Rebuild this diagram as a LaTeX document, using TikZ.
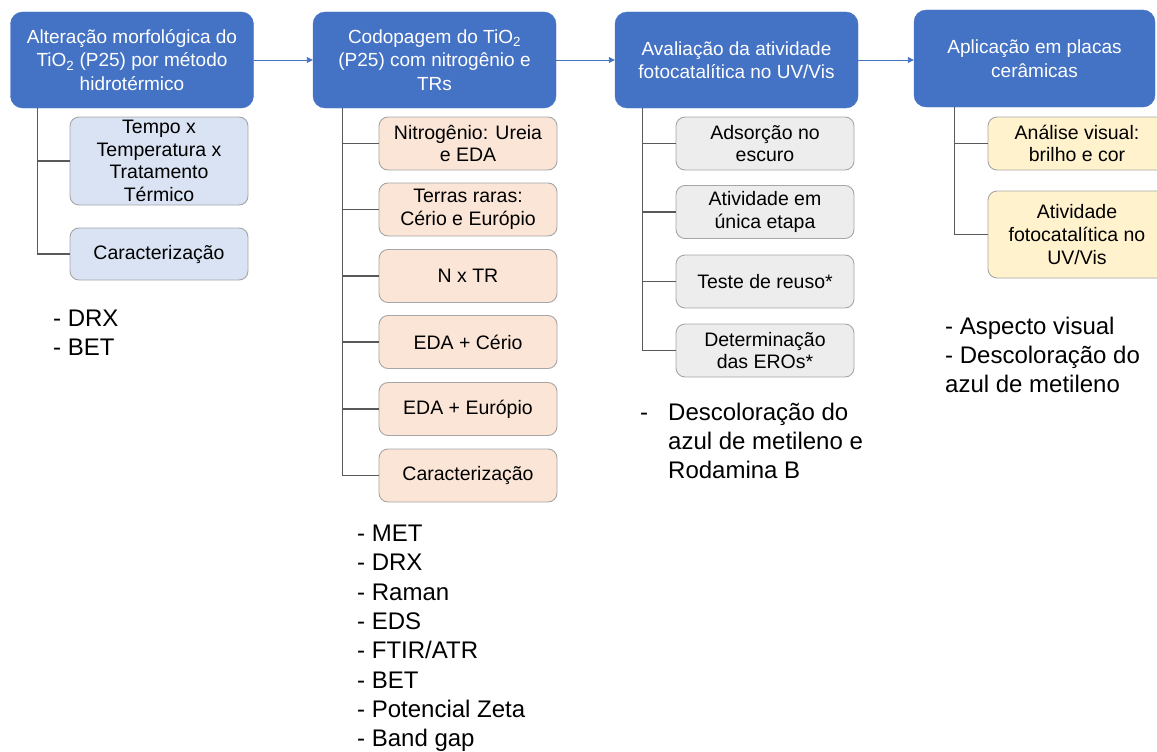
\documentclass[tikz,border=0pt]{standalone}
\usepackage{fontspec}
\setmainfont{Liberation Sans}
\usetikzlibrary{arrows.meta}
\definecolor{hdr}{HTML}{4472C4}
\definecolor{cA}{HTML}{DAE3F3}
\definecolor{cB}{HTML}{FBE5D6}
\definecolor{cC}{HTML}{EDEDED}
\definecolor{cD}{HTML}{FFF2CC}
\definecolor{bord}{HTML}{A6A6A6}
\definecolor{linegray}{HTML}{595959}
\begin{document}
\begin{tikzpicture}[x=1pt,y=-1pt,
  hdrbox/.style={draw=hdr, fill=hdr, rounded corners=12pt, minimum width=243pt, minimum height=96pt, text=white, align=center, font=\fontsize{19}{23.5}\selectfont, inner sep=0pt},
  subbox/.style={draw=bord, line width=0.9pt, rounded corners=9pt, minimum width=178pt, minimum height=53pt, align=center, font=\fontsize{19.5}{22.7}\selectfont, inner sep=0pt},
  conn/.style={draw=linegray, line width=1.1pt},
  flow/.style={draw=hdr, line width=0.9pt, -{Triangle[length=6pt,width=6pt]}},
  listtxt/.style={anchor=north west, inner sep=0pt, align=left, font=\fontsize{24}{29.3}\selectfont}
]
\clip (0,0) rectangle (1157,752);

% headers
\node[hdrbox] (h1) at (132,60) {Alteração morfológica do\\TiO\textsubscript{2} (P25) por método\\hidrotérmico};
\node[hdrbox] (h2) at (434.5,60) {Codopagem do TiO\textsubscript{2}\\(P25) com nitrogênio e\\TRs};
\node[hdrbox] (h3) at (736.5,60) {Avaliação da atividade\\fotocatalítica no UV/Vis};
\node[hdrbox, minimum width=241pt, minimum height=97pt] (h4) at (1034.5,58.5) {Aplicação em placas\\cerâmicas};

\draw[flow] (h1) -- (h2);
\draw[flow] (h2) -- (h3);
\draw[flow] (h3.east) -- (h3.east -| h4.west);

% column 1
\node[subbox, fill=cA, minimum height=88pt] (a1) at (159,161) {Tempo x\\Temperatura x\\Tratamento\\Térmico};
\node[subbox, fill=cA, minimum height=52pt] (a2) at (159,254) {Caracterização};
\coordinate (ta) at ([xshift=27pt]h1.south west);
\draw[conn] (ta) |- (a2.west);
\draw[conn] (ta |- a1.west) -- (a1.west);

% column 2
\node[subbox, fill=cB] (b1) at (468,143.5) {Nitrogênio: Ureia\\e EDA};
\node[subbox, fill=cB] (b2) at (468,209.5) {Terras raras:\\Cério e Európio};
\node[subbox, fill=cB] (b3) at (468,276) {N x TR};
\node[subbox, fill=cB] (b4) at (468,342) {EDA + Cério};
\node[subbox, fill=cB] (b5) at (468,409) {EDA + Európio};
\node[subbox, fill=cB] (b6) at (468,475.5) {Caracterização};
\coordinate (tb) at ([xshift=29.5pt]h2.south west);
\draw[conn] (tb) |- (b6.west);
\foreach \n in {b1,b2,b3,b4,b5} \draw[conn] (tb |- \n.west) -- (\n.west);

% column 3
\node[subbox, fill=cC] (c1) at (765,143.5) {Adsorção no\\escuro};
\node[subbox, fill=cC] (c2) at (765,212) {Atividade em\\única etapa};
\node[subbox, fill=cC] (c3) at (765,281.5) {Teste de reuso*};
\node[subbox, fill=cC] (c4) at (765,350.5) {Determinação\\das EROs*};
\coordinate (tc) at ([xshift=28pt]h3.south west);
\draw[conn] (tc) |- (c4.west);
\foreach \n in {c1,c2,c3} \draw[conn] (tc |- \n.west) -- (\n.west);

% column 4
\node[subbox, fill=cD] (d1) at (1077,143.5) {Análise visual:\\brilho e cor};
\node[subbox, fill=cD, minimum height=87pt] (d2) at (1077,234.5) {Atividade\\fotocatalítica no\\UV/Vis};
\coordinate (td) at ([xshift=41pt]h4.south west);
\draw[conn] (td) |- (d2.west);
\draw[conn] (td |- d1.west) -- (d1.west);

% lists
\node[listtxt] (l1) at (53,309.8) {- DRX\\- BET};
\node[listtxt] (l2) at (357,524.8) {- MET\\- DRX\\- Raman\\- EDS\\- FTIR/ATR\\- BET\\- Potencial Zeta\\- Band gap};
\node[anchor=north west, inner sep=0pt, font=\fontsize{24}{29.3}\selectfont] (l3) at (640,399.5) {\begin{tabular}{@{}p{28pt}@{}l@{}}-&Descoloração do\\&azul de metileno e\\&Rodamina B\end{tabular}};
\node[listtxt] (l4) at (945,316.8) {- Aspecto visual\\- Descoloração do\\azul de metileno};
\end{tikzpicture}
\end{document}
